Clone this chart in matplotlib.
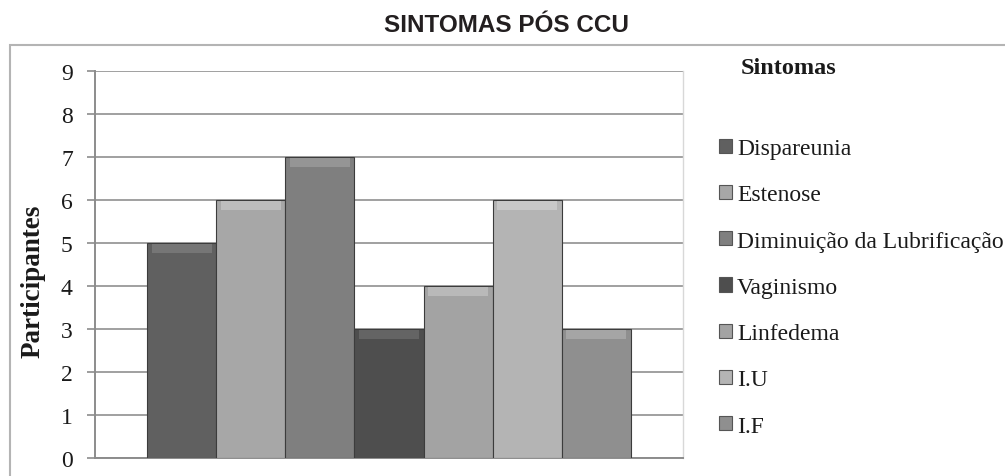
import matplotlib.pyplot as plt
from matplotlib.patches import Rectangle, Patch

# dados do gráfico
sintomas = ['Dispareunia', 'Estenose', 'Diminuição da Lubrificação',
            'Vaginismo', 'Linfedema', 'I.U', 'I.F']
participantes = [5, 6, 7, 3, 4, 6, 3]
cores = ['#606060', '#a7a7a7', '#7f7f7f', '#4e4e4e', '#a3a3a3', '#b4b4b4', '#8f8f8f']
topo = ['#767676', '#bdbdbd', '#959595', '#646464', '#b9b9b9', '#c8c8c8', '#a5a5a5']
yticks = list(range(0, 10))

W, H = 1005, 477
fig = plt.figure(figsize=(W / 100, H / 100), dpi=100)
ax = fig.add_axes([95 / W, 1 - 459 / H, (683 - 95) / W, (459 - 72) / H])

# moldura externa
fig.patches.append(Rectangle((10 / W, -0.1), 1.2, 1.1 - 46 / H, transform=fig.transFigure,
                             fill=False, edgecolor='#b4b4b4', linewidth=1.5))

x = list(range(len(sintomas)))
ax.bar(x, participantes, width=1.0, color=cores, edgecolor='#3c3c3c', linewidth=0.8, zorder=3)
# chanfro no topo das barras
faixa = 0.2
ax.bar(x, [faixa] * len(x), bottom=[v - faixa - 0.03 for v in participantes], width=0.88,
       color=topo, linewidth=0, zorder=4)

ax.set_xlim(-1.26, 7.26)
ax.set_ylim(0, 9)
ax.set_yticks(yticks)
ax.set_xticks([])
ax.grid(axis='y', color='#a0a0a0', linewidth=1.4, zorder=0)
ax.set_axisbelow(True)

ax.spines['top'].set_visible(False)
ax.spines['right'].set_color('#d8d8d8')
ax.spines['right'].set_linewidth(1.0)
ax.spines['left'].set_color('#8c8c8c')
ax.spines['left'].set_linewidth(1.4)
ax.spines['bottom'].set_color('#8c8c8c')
ax.spines['bottom'].set_linewidth(1.4)
ax.tick_params(axis='y', length=6, width=1.2, color='#8c8c8c', pad=10,
               labelsize=17, labelcolor='#1a1a1a')
for lab in ax.get_yticklabels():
    lab.set_fontfamily('Liberation Serif')

fig.text(506 / W, 1 - 25 / H, 'SINTOMAS PÓS CCU', ha='center', va='center',
         fontsize=17.5, fontweight='bold', family='Liberation Sans', color='#231f20')
fig.text(33 / W, 1 - 281 / H, 'Participantes', rotation=90, ha='center', va='center',
         fontsize=19.5, fontweight='bold', family='Liberation Serif', color='#1a1a1a')
fig.text(741 / W, 1 - 69 / H, 'Sintomas', ha='left', va='center',
         fontsize=17.5, fontweight='bold', family='Liberation Serif', color='#1a1a1a')

handles = [Patch(facecolor=c, edgecolor='#555555', linewidth=0.8) for c in cores]
leg = fig.legend(handles, sintomas, loc='upper left', bbox_to_anchor=(719 / W, 1 - 139 / H),
                 frameon=False, borderpad=0, borderaxespad=0, handlelength=0.55,
                 handleheight=0.55, handletextpad=0.22, labelspacing=1.07,
                 prop={'family': 'Liberation Serif', 'size': 17})
for t in leg.get_texts():
    t.set_color('#1a1a1a')

fig.savefig('out.png', dpi=100)
